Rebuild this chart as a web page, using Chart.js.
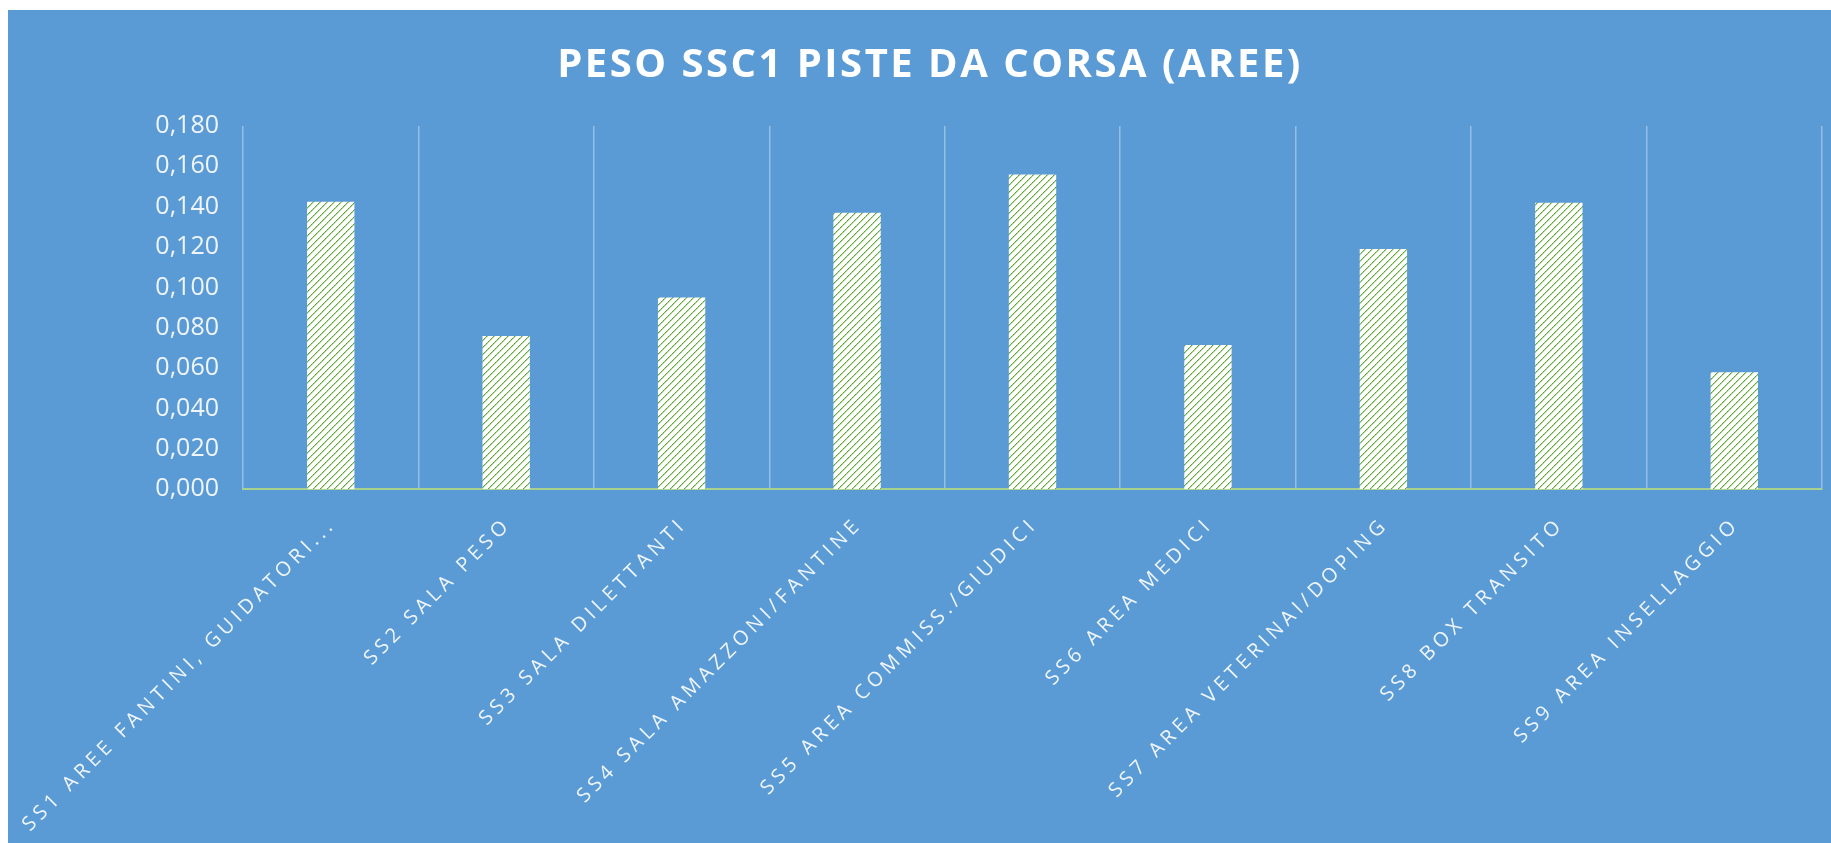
<!DOCTYPE html>
<html lang="it">
  <head>
    <meta charset="UTF-8" />
    <title>Peso SSC1 piste da corsa</title>
    <script src="https://cdn.jsdelivr.net/npm/chart.js@4/dist/chart.umd.min.js"></script>
    <style>
      html, body { margin: 0; padding: 0; background: #fff; }
      #wrap {
        position: absolute;
        left: 8px;
        top: 10px;
        width: 1823px;
        height: 833px;
        background: #5b9bd5;
      }
    </style>
  </head>
  <body>
    <div id="wrap"><canvas id="chart"></canvas></div>
    <script>
      const chartTitle = 'PESO SSC1 PISTE DA CORSA (AREE)';
      const categories = [
        'SS1 AREE FANTINI, GUIDATORI...',
        'SS2 SALA PESO',
        'SS3 SALA DILETTANTI',
        'SS4 SALA AMAZZONI/FANTINE',
        'SS5 AREA COMMISS./GIUDICI',
        'SS6 AREA MEDICI',
        'SS7 AREA VETERINAI/DOPING',
        'SS8 BOX TRANSITO',
        'SS9 AREA INSELLAGGIO'
      ];
      const weights = [0.1425, 0.076, 0.095, 0.137, 0.156, 0.0715, 0.119, 0.142, 0.058];
      const yTickLabels = ['0,000', '0,020', '0,040', '0,060', '0,080', '0,100', '0,120', '0,140', '0,160', '0,180'];

      const labelColor = 'rgba(255, 255, 255, 0.9)';

      // white tile with green upward diagonal, like the excel pattern fill
      function hatchPattern() {
        const size = 7;
        const c = document.createElement('canvas');
        c.width = size;
        c.height = size;
        const g = c.getContext('2d');
        g.fillStyle = '#ffffff';
        g.fillRect(0, 0, size, size);
        for (let i = 0; i < size; i++) {
          g.fillStyle = '#b8dba3';
          g.fillRect((i + 1) % size, size - 1 - i, 1, 1);
          g.fillStyle = i % 2 === 0 ? '#5ea336' : '#7dbb57';
          g.fillRect(i, size - 1 - i, 1, 1);
        }
        return g.createPattern(c, 'repeat');
      }

      // title and rotated category labels need letter spacing, so draw them here
      const textPlugin = {
        id: 'spacedText',
        afterDraw(chart) {
          const ctx = chart.ctx;
          const area = chart.chartArea;
          const xScale = chart.scales.x;

          ctx.save();
          ctx.fillStyle = '#ffffff';
          ctx.font = 'bold 40px "Open Sans"';
          ctx.letterSpacing = '2.5px';
          ctx.textAlign = 'center';
          ctx.textBaseline = 'middle';
          ctx.fillText(chartTitle, 922, 56);
          ctx.restore();

          ctx.save();
          ctx.fillStyle = labelColor;
          ctx.font = '20px "Open Sans"';
          ctx.letterSpacing = '4.5px';
          ctx.textAlign = 'right';
          ctx.textBaseline = 'middle';
          categories.forEach((label, i) => {
            const x = xScale.getPixelForValue(i);
            ctx.save();
            ctx.translate(x + 2, area.bottom + 32);
            ctx.rotate(-Math.PI / 4);
            ctx.fillText(label, 0, 0);
            ctx.restore();
          });
          ctx.restore();
        }
      };

      const ctx = document.getElementById('chart').getContext('2d');
      const chart = new Chart(ctx, {
        type: 'bar',
        data: {
          labels: categories,
          datasets: [
            {
              label: 'Peso',
              data: weights,
              backgroundColor: hatchPattern(),
              borderWidth: 0,
              barPercentage: 0.27,
              categoryPercentage: 1
            }
          ]
        },
        options: {
          responsive: true,
          maintainAspectRatio: false,
          animation: false,
          layout: {
            padding: { top: 116, right: 9, left: 0, bottom: 0 }
          },
          plugins: {
            legend: { display: false },
            tooltip: { enabled: false },
            title: { display: false }
          },
          scales: {
            x: {
              offset: true,
              grid: {
                offset: true,
                color: 'rgba(255, 255, 255, 0.35)',
                lineWidth: 1.5,
                drawTicks: false
              },
              border: { color: '#a9d18e', width: 2 },
              ticks: { display: false },
              afterFit(scale) {
                scale.height = 353.7;
              }
            },
            y: {
              min: 0,
              max: 0.18,
              grid: { display: false, drawTicks: false },
              border: { display: false },
              ticks: {
                stepSize: 0.02,
                padding: 24,
                color: labelColor,
                font: { family: '"Open Sans"', size: 25 },
                callback: (value, index) => yTickLabels[index]
              },
              afterFit(scale) {
                scale.width = 235;
              }
            }
          }
        },
        plugins: [textPlugin]
      });
    </script>
  </body>
</html>
